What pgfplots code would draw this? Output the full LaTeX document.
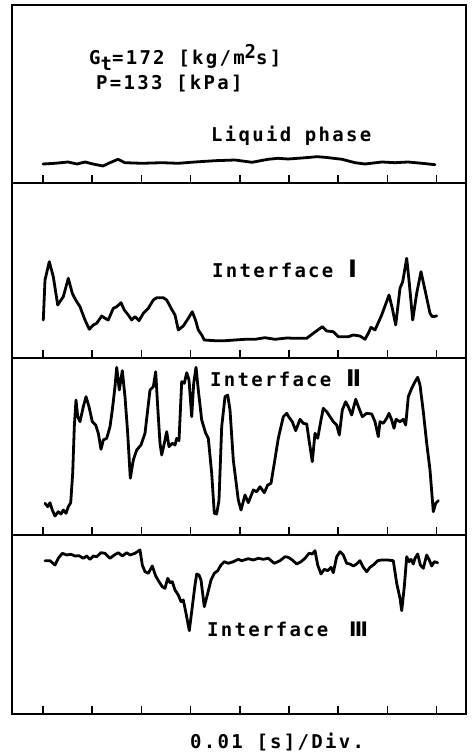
\documentclass[border=0pt]{standalone}
\usepackage{pgfplots}
\pgfplotsset{compat=1.18}
\usepackage{fontspec}
\usepackage{graphicx}
\newfontfamily\tw{DejaVu Sans Mono}[LetterSpace=12]
\newfontfamily\rn{DejaVu Sans}
\newcommand\T{\fontsize{19}{21}\tw\bfseries}
\pgfplotsset{panel/.style={
  scale only axis, width=454pt,
  xmin=12, xmax=466, y dir=reverse,
  axis line style={line width=1.6pt},
  xtick={43,92.2,141.4,190.6,239.8,289,338.2,387.4,436.6},
  xticklabels={}, ytick=\empty,
  xtick pos=left, tick align=inside,
  major tick length=8pt,
  every tick/.style={line width=1.5pt, black},
  clip=false, anchor=south west,
},
curve/.style={black, line width=2.8pt, line join=round, line cap=round, mark=none}}
\begin{document}
\begin{tikzpicture}
\path[use as bounding box] (0,0) rectangle (472pt,755pt);
% Panel 1
\begin{axis}[panel, at={(12pt,572pt)}, height=178pt, ymin=5, ymax=183]
\addplot[curve] coordinates {(43,164) (55,163.3) (68,162) (77,164) (85,162) (93,164) (103,166) (110,162.7) (118,159.3) (125,162.7) (142,163.3) (162,162.7) (178,163.3) (195,162) (215,160.7) (235,160) (252,162.3) (268,159.3) (278,158.3) (288,159) (302,158) (317,156.7) (325,157.3) (342,159.3) (355,162.7) (365,164) (382,162) (395,162.7) (408,162) (422,163.3) (435,164.7)};
\node[anchor=base west, inner sep=0] at (axis cs:89,65) {\T G\raisebox{-6pt}{t}=172 [kg/m\raisebox{6pt}{2}s]};
\node[anchor=base west, inner sep=0] at (axis cs:96,90) {\T P=133 [kPa]};
\node[anchor=base west, inner sep=0] at (axis cs:211,142) {\T Liquid phase};
\end{axis}
% Panel 2
\begin{axis}[panel, at={(12pt,397pt)}, height=175pt, ymin=183, ymax=358]
\addplot[curve] coordinates {(43.3,320) (45,280) (49.3,261.7) (53.3,276.7) (57.7,305) (63.3,296.7) (68.3,278.3) (72.3,293.3) (75.7,300) (80,306.7) (85,320) (89.3,329.3) (93.3,325) (96.7,323.3) (101.7,316) (105,318.3) (108.3,320) (113.3,308.3) (116.7,306.7) (121,302.7) (124.3,310) (128.3,315) (131.7,320) (135,316.7) (139,320.7) (143.3,313.3) (148.3,308.3) (153.3,300) (156.7,297.7) (163.3,297.7) (166.7,300) (171.7,309.3) (175,315) (178.3,330) (183.3,326) (188.3,318.3) (192.3,311.7) (195.7,320.7) (198.3,330) (201.7,335) (204.3,340) (215,340.7) (225,340.7) (235,340) (245,339.3) (255,339.3) (265,337.7) (275,339.3) (286.7,338) (295,338.3) (306.7,338.3) (313.3,333.3) (322.3,326.7) (326.7,331) (333.3,331.7) (338.3,336.7) (348.3,336.7) (353.3,335) (360,336) (365,339.3) (368.3,333.3) (371,327.3) (375,330) (381.7,315) (389,295) (392.3,308.3) (395.7,325) (400,288.3) (402.7,281.7) (406.7,258.3) (409.3,283.3) (412.7,320) (416.7,293.3) (421,271.7) (425,290) (430,313.3) (432.3,316.7) (436.7,316)};
\node[anchor=base west, inner sep=0] at (axis cs:212,277.5) {\T Interface};
\node[anchor=base west, inner sep=0] at (axis cs:348,277.7) {\rn\bfseries\fontsize{24}{24}\selectfont Ⅰ};
\end{axis}
% Panel 3
\begin{axis}[panel, at={(12pt,220pt)}, height=177pt, ymin=358, ymax=535]
\addplot[curve] coordinates {(45,503.3) (47.7,506.7) (50,502.7) (52.3,510) (55,516) (58.3,511.7) (61,514) (63.3,510) (66,513.3) (68.3,506.7) (70.7,502.7) (72.7,473.3) (74.3,426.7) (76,400) (77.7,416.7) (80,421.7) (83.3,406.7) (86,396.7) (89,406.7) (92.3,421.7) (95.7,425) (98.3,433.3) (101,449.3) (103.3,440) (106.7,438.3) (110,426.7) (112.3,410) (115,386.7) (116.7,367.3) (119.3,390) (122.3,370.7) (125,396.7) (127.7,433.3) (130.3,478.3) (133.3,460) (136.7,450) (141,445) (145,433.3) (150,390) (153.3,386.7) (155.7,371.7) (157.7,406.7) (160,443.3) (161.7,455) (164.3,443.3) (166.7,431.7) (169,446.7) (172.3,443.3) (175,445) (176.7,438.3) (179,440.7) (181.7,381.7) (184.3,383.3) (186.7,372.7) (189,380) (191.7,416.7) (193.7,383.3) (196,367.3) (198.3,390) (201.7,420) (205.7,433.3) (208.3,438.3) (211.7,473.3) (214.3,513.3) (216.7,514) (219,500) (221.7,426.7) (225,396.7) (227.7,395) (230,410) (233.3,460) (238.3,500) (241,510) (245,495) (248.3,502.7) (253.3,490) (256.7,491.7) (260,486.7) (264.3,492.7) (267.7,485) (271,483.3) (274.3,463.3) (278.3,438.3) (283.3,416.7) (286.7,413.3) (289,417.3) (292.3,421.7) (295.7,430.7) (300,419.3) (303.3,423.3) (306.7,424) (309,440) (312.3,461.7) (315,433.3) (317.7,438.3) (321,420) (323.3,408.3) (326.7,411.7) (330,416.7) (333.3,421.7) (336.7,425) (339.3,435) (342.3,410) (345.7,401.7) (348.3,406.7) (351.7,415) (355.7,399.3) (359,408.3) (362.3,416.7) (366.7,413.3) (371.7,414) (375,421.7) (378.3,436.7) (380,421.7) (383.3,423.3) (386.7,418.3) (389,413.3) (391.7,420) (394,428.3) (396,419.3) (400,421.7) (403.3,419.3) (405.7,425) (408.3,396.7) (411.7,388.3) (415,381.7) (417.7,377.3) (420,385) (423.3,411.7) (426.7,443.3) (430,470) (433.3,511.7) (435.7,503.3) (438.3,500.7)};
\node[anchor=base west, inner sep=0] at (axis cs:210,386.7) {\T Interface};
\node[anchor=base west, inner sep=0] at (axis cs:346,386.7) {\rn\bfseries\fontsize{23}{23}\selectfont Ⅱ};
\end{axis}
% Panel 4
\begin{axis}[panel, at={(12pt,41pt)}, height=179pt, ymin=535, ymax=714]
\addplot[curve] coordinates {(45,560.7) (50,560.7) (55,565) (58.3,558.3) (62.3,553.3) (66.7,555) (71,554.3) (75,556) (79,555.7) (83.3,558.3) (86.7,556) (90,559.3) (93.3,556) (96.7,556.7) (101,552.7) (105,553.3) (110,558.3) (114.3,555) (118.3,552.7) (122.3,556) (126.7,552.7) (130,555) (135,553.3) (140,550) (142.3,565) (145,571.7) (148.3,573.3) (152.3,566) (155.7,576) (159,581.7) (162.3,586.7) (165,588.3) (167.7,578.3) (170,582.7) (172.3,581.7) (175,590) (178.3,595) (181,601.7) (183.3,600) (185.7,611.7) (189.3,630.7) (192.3,606.7) (195,585) (196.7,574) (199,575) (201,580) (204.3,606.7) (207.7,593.3) (211,580) (214.3,573.3) (217.7,570.7) (221,565) (224.3,561.7) (228.3,563.3) (233.3,561.7) (238.3,559.3) (241.7,560.7) (248.3,558.7) (253.3,560) (258.3,558.3) (263.3,559.3) (268.3,558.3) (274.3,563.3) (280,560.7) (285,556.7) (288.3,557.3) (292.3,560) (296.7,564) (301,561.7) (305,558.3) (309,553.3) (312.3,554) (315,550.7) (317.7,565) (321,574) (324.3,569.3) (327.7,570.7) (331,567.3) (333.3,572.7) (336.7,556.7) (340,551.7) (343.3,555) (346.7,563.3) (350,564) (353.3,566) (356.7,564) (360,560.7) (363.3,567.3) (366.7,571.7) (370,567.3) (373.3,565) (377.7,560.7) (381.7,560) (387.7,560) (393.3,560.7) (396.7,583.3) (400,598.3) (401.7,610.7) (404.3,586.7) (406.7,556.7) (409,561.7) (411,559.3) (413.3,564) (415,558.3) (417.7,554) (420.3,565) (423.3,568.3) (426.7,555) (429.3,560) (431.7,566) (434.3,561.7) (437.7,562.7)};
\node[anchor=base west, inner sep=0] at (axis cs:207,636) {\T Interface};
\node[anchor=base west, inner sep=0] at (axis cs:349,636) {\rn\bfseries\fontsize{20}{20}\selectfont Ⅲ};
\node[anchor=base west, inner sep=0] at (axis cs:190,748) {\T 0.01 [s]/Div.};
\end{axis}
\end{tikzpicture}
\end{document}
